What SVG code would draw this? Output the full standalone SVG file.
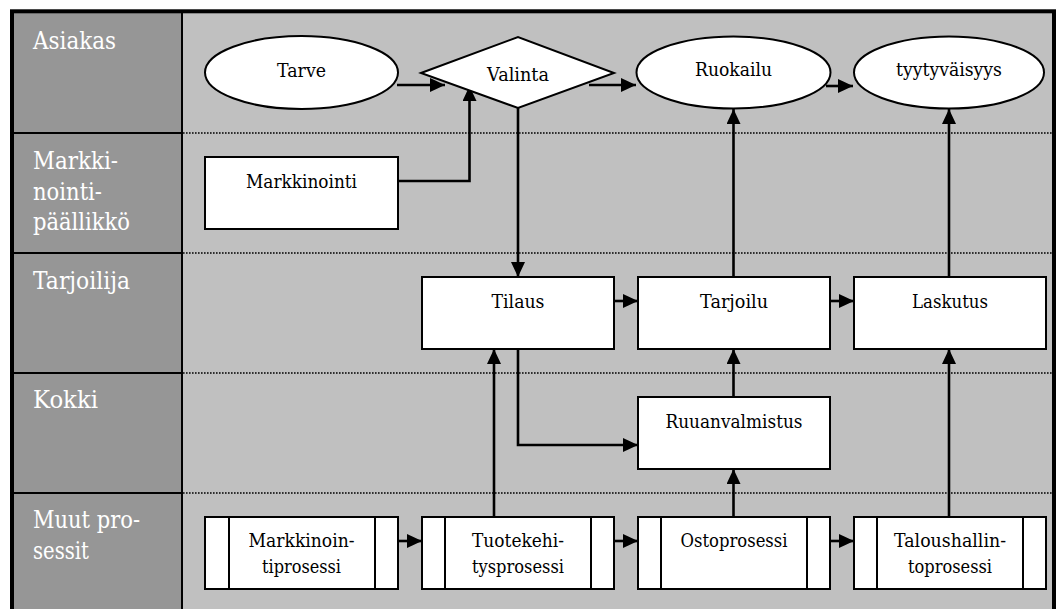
<svg xmlns="http://www.w3.org/2000/svg" width="1056" height="609" viewBox="0 0 1056 609">
  <style>
    .hdr { fill: #969696; }
    .body { fill: #c0c0c0; }
    .lbl { font-family: "DejaVu Serif", serif; font-size: 23.5px; fill: #ffffff; }
    .sep { stroke: #000; stroke-width: 2; }
    .dot { stroke: #000; stroke-width: 1.6; stroke-dasharray: 1.6 1.4; }
    .shape { fill: #ffffff; stroke: #000; stroke-width: 2; }
    .txt { font-family: "DejaVu Serif", serif; font-size: 19px; fill: #000; text-anchor: middle; }
    .conn { fill: none; stroke: #000; stroke-width: 2.6; marker-end: url(#arrow); }
  </style>
  <defs>
    <marker id="arrow" markerUnits="userSpaceOnUse" markerWidth="15" markerHeight="14" refX="15" refY="7" orient="auto">
      <path d="M0,0 L15,7 L0,14 z" fill="#000"/>
    </marker>
  </defs>

  <!-- page background -->
  <rect x="0" y="0" width="1056" height="609" fill="#ffffff"/>

  <!-- swimlane frame with role headers -->
  <g id="lanes">
    <rect class="hdr" x="12" y="11" width="170" height="640"/>
    <rect class="body" x="182" y="11" width="872" height="640"/>
    <line class="sep" x1="182" y1="11" x2="182" y2="609"/>
    <line class="sep" x1="12" y1="133" x2="182" y2="133"/>
    <line class="sep" x1="12" y1="253" x2="182" y2="253"/>
    <line class="sep" x1="12" y1="373" x2="182" y2="373"/>
    <line class="sep" x1="12" y1="493" x2="182" y2="493"/>
    <line class="dot" x1="183" y1="133" x2="1052" y2="133"/>
    <line class="dot" x1="183" y1="253" x2="1052" y2="253"/>
    <line class="dot" x1="183" y1="373" x2="1052" y2="373"/>
    <line class="dot" x1="183" y1="493" x2="1052" y2="493"/>
    <rect x="12" y="11.3" width="1042" height="660" fill="none" stroke="#000" stroke-width="4"/>
    <text class="lbl" x="33" y="49" textLength="83" lengthAdjust="spacingAndGlyphs">Asiakas</text>
    <text class="lbl" x="33" y="169" textLength="85" lengthAdjust="spacingAndGlyphs">Markki-</text>
    <text class="lbl" x="33" y="199.5" textLength="69" lengthAdjust="spacingAndGlyphs">nointi-</text>
    <text class="lbl" x="33" y="229.5" textLength="97" lengthAdjust="spacingAndGlyphs">päällikkö</text>
    <text class="lbl" x="33" y="289" textLength="97" lengthAdjust="spacingAndGlyphs">Tarjoilija</text>
    <text class="lbl" x="33" y="408" textLength="65" lengthAdjust="spacingAndGlyphs">Kokki</text>
    <text class="lbl" x="33" y="528" textLength="107" lengthAdjust="spacingAndGlyphs">Muut pro-</text>
    <text class="lbl" x="33" y="559" textLength="56" lengthAdjust="spacingAndGlyphs">sessit</text>
  </g>

  <!-- connectors -->
  <g id="connectors">
    <path class="conn" d="M397,85 H445"/>
    <path class="conn" d="M398,181 H469.5 V86"/>
    <path class="conn" d="M589,85 H636"/>
    <path class="conn" d="M826,86 H853"/>
    <path class="conn" d="M518,108 V277"/>
    <path class="conn" d="M733.5,277 V109"/>
    <path class="conn" d="M949,277 V109"/>
    <path class="conn" d="M614,301 H638"/>
    <path class="conn" d="M830,301 H854"/>
    <path class="conn" d="M518,349 V445 H638"/>
    <path class="conn" d="M733.5,397 V349"/>
    <path class="conn" d="M494,517 V349"/>
    <path class="conn" d="M733.5,517 V469"/>
    <path class="conn" d="M949,517 V349"/>
    <path class="conn" d="M398,541 H422"/>
    <path class="conn" d="M614,541 H638"/>
    <path class="conn" d="M830,541 H854"/>
  </g>

  <!-- Asiakas lane -->
  <g id="tarve">
    <ellipse class="shape" cx="301.5" cy="72.5" rx="96.5" ry="36.5"/>
    <text class="txt" x="301.5" y="77" textLength="49" lengthAdjust="spacingAndGlyphs">Tarve</text>
  </g>
  <g id="valinta">
    <polygon class="shape" points="421,73 518,37 614,73 518,108"/>
    <text class="txt" x="518" y="81" textLength="62" lengthAdjust="spacingAndGlyphs">Valinta</text>
  </g>
  <g id="ruokailu">
    <ellipse class="shape" cx="733.5" cy="72.5" rx="97" ry="36"/>
    <text class="txt" x="733.5" y="76" textLength="77" lengthAdjust="spacingAndGlyphs">Ruokailu</text>
  </g>
  <g id="tyytyvaisyys">
    <ellipse class="shape" cx="949" cy="72.5" rx="95" ry="36"/>
    <text class="txt" x="949" y="76" textLength="106" lengthAdjust="spacingAndGlyphs">tyytyväisyys</text>
  </g>

  <!-- Markkinointipäällikkö lane -->
  <g id="markkinointi">
    <rect class="shape" x="205" y="157" width="193" height="72"/>
    <text class="txt" x="301.5" y="188" textLength="111" lengthAdjust="spacingAndGlyphs">Markkinointi</text>
  </g>

  <!-- Tarjoilija lane -->
  <g id="tilaus">
    <rect class="shape" x="422" y="277" width="192" height="72"/>
    <text class="txt" x="518" y="308" textLength="53" lengthAdjust="spacingAndGlyphs">Tilaus</text>
  </g>
  <g id="tarjoilu">
    <rect class="shape" x="638" y="277" width="192" height="72"/>
    <text class="txt" x="734" y="308" textLength="68" lengthAdjust="spacingAndGlyphs">Tarjoilu</text>
  </g>
  <g id="laskutus">
    <rect class="shape" x="854" y="277" width="192" height="72"/>
    <text class="txt" x="950" y="308" textLength="76" lengthAdjust="spacingAndGlyphs">Laskutus</text>
  </g>

  <!-- Kokki lane -->
  <g id="ruuanvalmistus">
    <rect class="shape" x="638" y="397" width="192" height="72"/>
    <text class="txt" x="734" y="428" textLength="137" lengthAdjust="spacingAndGlyphs">Ruuanvalmistus</text>
  </g>

  <!-- Muut prosessit lane: predefined-process boxes -->
  <g id="markkinointiprosessi">
    <rect class="shape" x="205" y="517" width="193" height="72"/>
    <line class="sep" x1="229" y1="517" x2="229" y2="589"/>
    <line class="sep" x1="375" y1="517" x2="375" y2="589"/>
    <text class="txt" x="301.5" y="547" textLength="106" lengthAdjust="spacingAndGlyphs">Markkinoin-</text>
    <text class="txt" x="301.5" y="573" textLength="79" lengthAdjust="spacingAndGlyphs">tiprosessi</text>
  </g>
  <g id="tuotekehitysprosessi">
    <rect class="shape" x="422" y="517" width="192" height="72"/>
    <line class="sep" x1="445" y1="517" x2="445" y2="589"/>
    <line class="sep" x1="591" y1="517" x2="591" y2="589"/>
    <text class="txt" x="518" y="547" textLength="92" lengthAdjust="spacingAndGlyphs">Tuotekehi-</text>
    <text class="txt" x="518" y="573" textLength="92" lengthAdjust="spacingAndGlyphs">tysprosessi</text>
  </g>
  <g id="ostoprosessi">
    <rect class="shape" x="638" y="517" width="192" height="72"/>
    <line class="sep" x1="661" y1="517" x2="661" y2="589"/>
    <line class="sep" x1="807" y1="517" x2="807" y2="589"/>
    <text class="txt" x="734" y="547" textLength="107" lengthAdjust="spacingAndGlyphs">Ostoprosessi</text>
  </g>
  <g id="taloushallintoprosessi">
    <rect class="shape" x="854" y="517" width="192" height="72"/>
    <line class="sep" x1="877" y1="517" x2="877" y2="589"/>
    <line class="sep" x1="1023" y1="517" x2="1023" y2="589"/>
    <text class="txt" x="950" y="547" textLength="112" lengthAdjust="spacingAndGlyphs">Taloushallin-</text>
    <text class="txt" x="950" y="573" textLength="84" lengthAdjust="spacingAndGlyphs">toprosessi</text>
  </g>
</svg>
